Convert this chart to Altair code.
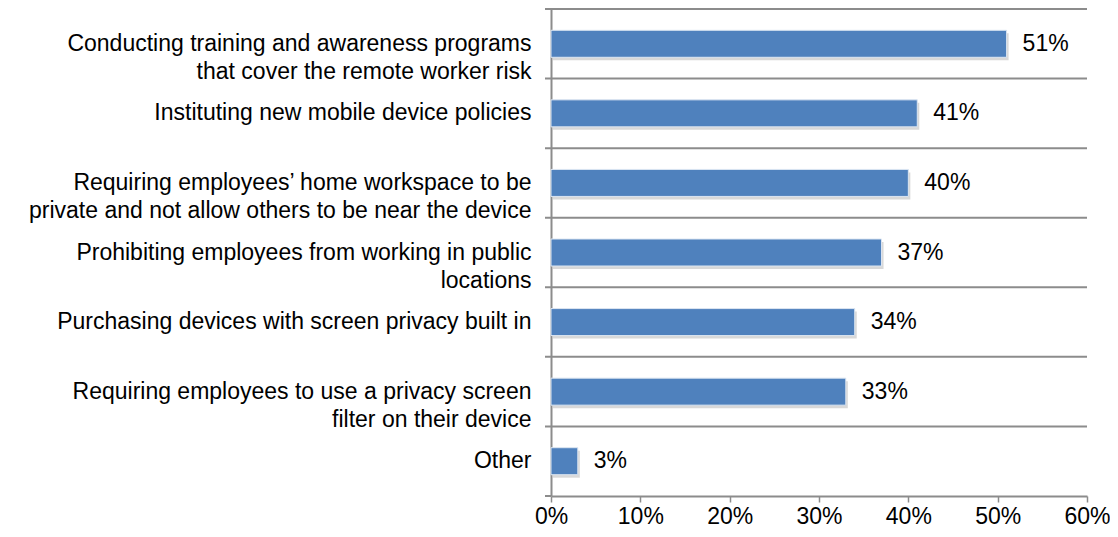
import altair as alt
import pandas as pd

categories = [
    "Conducting training and awareness programs|that cover the remote worker risk",
    "Instituting new mobile device policies",
    "Requiring employees’ home workspace to be|private and not allow others to be near the device",
    "Prohibiting employees from working in public|locations",
    "Purchasing devices with screen privacy built in",
    "Requiring employees to use a privacy screen|filter on their device",
    "Other",
]
values = [0.51, 0.41, 0.40, 0.37, 0.34, 0.33, 0.03]
value_labels = ["51%", "41%", "40%", "37%", "34%", "33%", "3%"]

df = pd.DataFrame({"cat": categories, "val": values, "lab": value_labels})

FONT = "Liberation Sans"
GRAY = "#8c8c8c"
FS = 23
W, H = 536, 487

y_enc = alt.Y(
    "cat:N",
    sort=categories,
    title=None,
    scale=alt.Scale(paddingInner=0, paddingOuter=0),
    axis=alt.Axis(
        grid=False,
        ticks=False,
        domainColor=GRAY,
        domainWidth=2,
        labelExpr="split(datum.label, '|')",
        labelFont=FONT,
        labelFontSize=FS,
        labelColor="#000000",
        labelLineHeight=28,
        labelPadding=20,
        labelLimit=600,
    ),
)

x_enc = alt.X(
    "val:Q",
    title=None,
    scale=alt.Scale(domain=[0, 0.6]),
    axis=alt.Axis(
        format=".0%",
        values=[0, 0.1, 0.2, 0.3, 0.4, 0.5, 0.6],
        grid=False,
        tickSize=6,
        tickColor=GRAY,
        tickWidth=1.5,
        domainColor=GRAY,
        domainWidth=2,
        labelFont=FONT,
        labelFontSize=FS,
        labelColor="#000000",
        labelPadding=3,
        labelFlush=False,
    ),
)

grid = alt.Chart(df).mark_rule(color=GRAY, strokeWidth=2).encode(
    y=alt.Y("cat:N", sort=categories, bandPosition=0),
    x=alt.value(-6),
    x2=alt.value(W),
)

bottom_tick = alt.Chart(df).mark_rule(color=GRAY, strokeWidth=2).encode(
    y=alt.value(H), x=alt.value(-6), x2=alt.value(0)
)

shadow = alt.Chart(df).mark_bar(size=27, color="#c8c8c8", opacity=0.7, yOffset=3, xOffset=2).encode(
    x=x_enc, y=y_enc
)

bars = alt.Chart(df).mark_bar(size=27, color="#4F81BD", stroke="#dce6f2", strokeWidth=1).encode(
    x="val:Q", y=alt.Y("cat:N", sort=categories)
)

text = alt.Chart(df).mark_text(
    align="left", baseline="middle", dx=16, font=FONT, fontSize=FS, color="#000000"
).encode(x="val:Q", y=alt.Y("cat:N", sort=categories), text="lab:N")

chart = (
    alt.layer(shadow, grid, bottom_tick, bars, text)
    .properties(
        width=W,
        height=H,
        autosize=alt.AutoSizeParams(type="none"),
        padding={"left": 543, "top": 1, "right": 23, "bottom": 33},
    )
    .configure_view(stroke=None)
)

chart.save("out.html", embed_options={"renderer": "svg", "actions": False})
